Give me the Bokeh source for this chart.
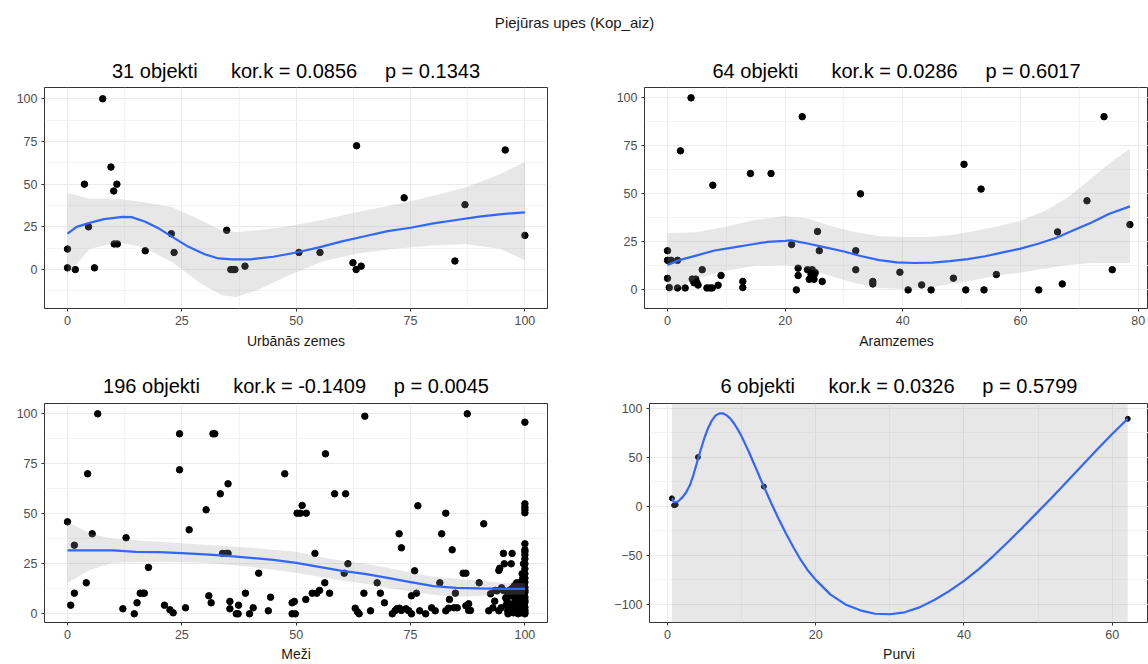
from bokeh.plotting import figure
from bokeh.layouts import column, row
from bokeh.models import FixedTicker, Range1d
from bokeh.embed import file_html
from bokeh.resources import INLINE

FONT = "Liberation Sans"

# ---------------- Urbānās zemes (31 objects) ----------------
urb_x = [0, 0, 1.7, 3.7, 4.6, 5.9, 7.7, 9.5, 10.1, 10.8, 10.2, 10.9, 17, 22.7, 23.3, 34.8,
         35.7, 36.2, 36.6, 38.8, 50.6, 55.2, 62.4, 63.1, 64.2, 63.2, 73.6, 84.7, 86.9, 95.7, 100]
urb_y = [12, 1, 0, 50, 25, 1, 100, 60, 46, 50, 15, 15, 11, 21, 10, 23,
         0, 0, 0, 2, 10, 10, 4, 0, 2, 72.5, 42, 5, 38, 70, 20]
urb_fit_x = [0, 2, 5, 8, 12, 14, 17, 20, 23, 26, 30, 33, 36, 40, 45, 50, 55, 60, 65, 70,
             75, 80, 85, 90, 95, 100]
urb_fit_y = [21, 25, 27.5, 29.5, 30.8, 30.7, 28, 24, 19, 14, 9, 6.5, 6, 6, 7.5, 10, 13, 16.5,
             19.5, 22.5, 24.5, 27, 29, 31, 32.5, 33.5]
urb_band_x = [0, 4.8, 11, 16.5, 22.8, 29, 33.75, 36.9, 41.6, 47.8, 55.6, 63.4, 71, 79, 87, 94.7, 100]
urb_band_hi = [45, 41.5, 41.5, 39.6, 36.6, 29, 23, 22, 23, 25, 29, 33.7, 37.6, 42.5, 48, 56, 63]
urb_band_lo = [-3, 12, 16, 13, 4.5, -8, -15, -16, -12, -4, 4.5, 9.4, 12, 14, 15, 12, 5.5]

# ---------------- Aramzemes (64 objects) ----------------
aram_x = [0, 0, 0.6, 0, 0.3, 1.7, 1.7, 3, 2.2, 4, 4.2, 4.8, 4.5, 5, 5.9, 6.7, 7.2, 7.6, 7.7,
          8.6, 9.1, 12.8, 12.8, 14.1, 17.6, 21.1, 21.9, 22.2, 22.2, 22.9, 23.8, 24.6, 24.1,
          24.9, 24.9, 25.1, 25.5, 25.8, 26.3, 32, 32, 32.8, 34.9, 34.9, 39.5, 40.9, 43.2,
          44.8, 48.6, 50.4, 50.7, 53.3, 53.8, 55.9, 63.1, 66.3, 67.1, 71.3, 74.2, 75.6, 78.6,
          0.3, 5.2, 24.4]
aram_y = [20.4, 15.4, 15.4, 6, 1.2, 15.4, 1, 1, 72.4, 100, 5.6, 5.6, 3.7, 3.7, 10.5, 1, 1, 1,
          54.5, 2.4, 7.5, 4.4, 1.2, 60.6, 60.6, 23.6, 0, 11.3, 7.5, 90.2, 10.5, 10.5, 5.5,
          7.5, 5.5, 9, 30.4, 20.4, 4.4, 20.4, 10.5, 50, 4.4, 3.1, 9.2, 0, 2.6,
          0, 6.1, 65.4, 0, 52.5, 0, 8, 0, 30.2, 3.1, 46.4, 90.2, 10.5, 34,
          15, 2.5, 8]
aram_fit_x = [0, 2, 5, 8, 11, 14, 17, 20, 21, 24, 27, 30, 33, 36, 39, 42, 45, 48, 51, 54, 57,
              60, 63, 66, 69, 72, 75, 78.6]
aram_fit_y = [13, 15.5, 18, 20.5, 22, 23.5, 25, 25.5, 25.8, 24, 22, 20, 17.5, 15.5, 14.3, 14,
              14.2, 15, 16, 17.5, 19.5, 21.5, 24, 27, 31, 35, 39.5, 43.5]
aram_band_x = [0, 5, 10, 15, 20, 24, 28, 32, 36, 40, 44, 48, 52, 56, 60, 64, 68, 72, 76, 78.6]
aram_band_hi = [29.5, 30, 33, 36.5, 38.5, 37, 33, 30, 28, 27.5, 27.5, 28.5, 30.5, 33, 36, 41,
                48, 58, 68, 73.5]
aram_band_lo = [-2, 6, 10, 12.5, 13, 11, 7, 3.5, 1, 0.5, 1, 3, 5, 7.5, 9, 11, 13, 14, 14, 14]

# ---------------- Meži (196 objects) ----------------
mezi_x = [0, 0.7, 1.5, 1.5, 4.1, 4.4, 5.4, 6.6, 12.1, 12.8, 14.6, 15.2, 15.9, 16.5, 16.8, 17.7,
          21.2, 22.4, 23.1, 24.5, 24.5, 25.8, 26.6, 30.3, 30.9, 31.4, 31.8, 32.2, 33.4, 35.1,
          33.9, 34.7, 35.1, 35.5, 35.5, 36.9, 37.3, 37.4, 38.9, 39.8, 40.6, 41.8, 43.9, 44.4,
          47.5,
          49.1, 49.6, 49.1, 49.8, 50.2, 51.3, 50.9, 52.2, 52.1, 53.5, 54.5, 55.1, 54.1, 56.25,
          56.4, 57.3, 58.4, 60.8, 60.5, 61.3,
          62.9, 63.4, 63.75, 64.8, 65, 66.25, 67.7, 68.4, 69.3,
          71, 71.6, 72, 72.6, 73, 74, 74.6, 75.2, 72.5, 73, 75.2, 75.9, 76.3, 76.6, 77, 78.3,
          79.6, 80.4,
          81.4, 81.8, 82.7, 82.7, 83.3, 83.5, 84.1, 84.8, 84.5, 85.2, 86.5, 87.1, 87.4, 87.1,
          87.7, 87.7, 88.1,
          91, 90, 92.1, 93.4, 93.5, 94.3, 94.5, 94.3, 94.8, 95.3, 95.5, 95.3, 95.9, 96.25,
          96.25, 96.6, 97, 97.2, 97, 97.4,
          100, 100, 100, 100, 100, 100, 100, 100, 100, 100, 100, 100, 100, 100, 100, 100, 100,
          100, 100, 100,
          98.2, 99, 98.6, 99.3, 98, 99, 99.6, 98.5, 99.5, 98.8, 99.3, 97.8, 98.5, 99.2, 99.7,
          98.2, 99.6, 99.4, 99.7, 99.5,
          93, 93.9, 94.9, 95.8, 96.1, 96.8, 97.5, 97.1, 97.9, 98.9, 99.1, 99.8, 99.8, 99.8,
          99.8, 99.8, 99.8, 99.8, 100, 100, 100, 100, 100, 98.4, 97.7, 92.5, 96.3]
mezi_y = [46, 4.3, 34.3, 10.3, 15.5, 70, 40, 100, 2.5, 38, 0, 5.5, 10.3, 10.3, 10.3, 23.2,
          4.3, 2, 0.5, 90, 72, 3, 42, 52, 9, 5.5, 90, 90, 60, 65,
          30.2, 30.2, 30.2, 6.2, 2.5, 0, 0, 4.3, 10.3, 0, 3, 20.3, 1.5, 8.3,
          70,
          5.5, 6.2, 0, 0, 50.3, 54.2, 50.3, 50.3, 7.2, 10.3, 10.3, 11.7, 30.2, 15.5,
          80, 10.3, 60, 60, 20.3, 25,
          2.8, 1, 0, 10.3, 98.8, 1.5, 15.5, 10.3, 5.5,
          0, 1.5, 2.5, 2.8, 1.7, 2.5, 1.5, 0, 40, 33, 9, 21.5, 10.3, 54, 1.5, 0,
          3, 1.5,
          15.5, 40, 50.3, 1.5, 2.8, 7.2, 32, 10.3, 3, 3, 20.3, 20.3, 100, 4,
          1.7, 5, 1.7,
          45, 15.5, 1.5, 6.3, 11.7, 21.7, 22.8, 1.5, 3, 30.2, 25, 11.7, 4.3, 1.5,
          10.3, 11.7, 25, 30.2, 9, 5,
          95.8, 55, 53.3, 50.5, 35, 32, 29.5, 27.5, 25, 22.5, 20, 17.8, 15.8, 13.3, 10.8, 8.3,
          5.8, 3.3, 0.8, 0,
          15.5, 15.5, 13.3, 13.3, 10.3, 10.3, 10.3, 8, 6, 4.5, 2.5, 1.5, 0, 0.5, 1.5,
          2.8, 12, 20, 25, 17.5,
          3, 11.5, 13, 8, 6.5, 3, 0.5, 12.5, 7, 2, 5, 7, 9.5, 12,
          14.5, 19, 2, 4.5, 31, 52, 11.8, 6.8, 1.8, 11.5, 14, 10, 0]
mezi_fit_x = [0, 10, 15, 20, 25, 30, 35, 40, 45, 50, 55, 60, 65, 70, 75, 80, 85, 90, 95, 100]
mezi_fit_y = [31.7, 31.7, 31, 30.8, 30.3, 29.7, 29, 28, 27, 25.5, 23.5, 21.5, 20, 18, 15.8,
              13.8, 13, 12.7, 12.5, 12.5]
mezi_band_x = [0, 5, 10, 20, 30, 40, 50, 55, 60, 65, 70, 75, 80, 85, 90, 95, 100]
mezi_band_hi = [46, 40, 37.5, 36, 34.5, 33, 31, 28.5, 26.5, 25, 23, 20.5, 18.5, 17.5, 16.5,
                15.5, 15.3]
mezi_band_lo = [15.5, 22, 25.5, 26, 25.5, 23.5, 20.5, 18.5, 16.5, 15, 13, 11, 9.5, 8.5, 9,
                9.5, 9.7]

# ---------------- Purvi (6 objects) ----------------
purvi_x = [0.6, 0.9, 1.1, 4.1, 13, 62.1]
purvi_y = [8, 1, 1.5, 50, 20, 89]
purvi_fit_x = [0.6, 0.8, 1, 1.3, 1.6, 2, 2.5, 3, 3.5, 4, 4.5, 5, 5.5, 6, 6.5, 7, 7.5, 8, 8.5,
               9, 9.5, 10, 10.5, 11, 11.5, 12, 12.5, 13, 14, 15, 16, 17, 18, 19, 20, 22, 24,
               26, 28, 30, 32, 34, 36, 38, 40, 42, 44, 46, 48, 50, 52, 54, 56, 58, 60, 62.1]
purvi_fit_y = [8, 5, 4, 4.5, 6, 9, 14, 21, 32, 45, 58, 70, 80, 87.5, 92.5, 94.5, 94.5, 92.5,
               89, 84, 78, 71, 63, 55, 46, 37.5, 28.5, 20, 3, -13, -28, -42, -55, -66, -75,
               -90, -100, -106, -109.5, -110, -108, -103, -95.5, -86.5, -76, -64, -50.5, -36,
               -21, -5.5, 10, 26, 42, 58, 73.5, 89]
purvi_band_x = [0.6, 62.1]
purvi_band_hi = [400, 400]
purvi_band_lo = [-400, -400]

# ---------------- titles ----------------
GAP1 = " " + "\u00a0" * 5
GAP2 = " " + "\u00a0" * 4
main_title = "Piejūras upes (Kop_aiz)"
titles = ["31 objekti" + GAP1 + "kor.k = 0.0856" + GAP2 + "p = 0.1343",
          "64 objekti" + GAP1 + "kor.k = 0.0286" + GAP2 + "p = 0.6017",
          "196 objekti" + GAP1 + "kor.k = -0.1409" + GAP2 + "p = 0.0045",
          "6 objekti" + GAP1 + "kor.k = 0.0326" + GAP2 + "p = 0.5799"]
xlabels = ["Urbānās zemes", "Aramzemes", "Meži", "Purvi"]

x_ticks_pct = [0, 25, 50, 75, 100]
x_minor_pct = [12.5, 37.5, 62.5, 87.5]
x_ticks_20 = [0, 20, 40, 60, 80]
x_minor_20 = [10, 30, 50, 70]
y_ticks_pct = [0, 25, 50, 75, 100]
y_minor_pct = [-12.5, 12.5, 37.5, 62.5, 87.5]
y_ticks_purvi = [-100, -50, 0, 50, 100]
y_minor_purvi = [-75, -25, 25, 75]

BLUE = "#3366FF"


def panel(title, xlabel, px, py, fx, fy, bx, blo, bhi, xr, yr, xt, xm, yt, ym,
          width, height, borders, title_standoff, label_standoff, psize=6.5):
    left, right, top, bottom = borders
    p = figure(width=width, height=height, x_range=Range1d(*xr), y_range=Range1d(*yr),
               toolbar_location=None, output_backend="svg",
               min_border_left=left, min_border_right=right,
               min_border_top=top, min_border_bottom=bottom)
    p.title.text = title
    p.title.text_font = FONT
    p.title.text_font_size = "20px"
    p.title.text_font_style = "normal"
    p.title.text_color = "#000000"
    p.title.align = "center"
    p.title.standoff = title_standoff
    p.background_fill_color = "white"
    p.border_fill_color = "white"
    p.outline_line_color = "#333333"
    p.outline_line_width = 1

    p.xaxis.ticker = FixedTicker(ticks=xt, minor_ticks=xm)
    p.yaxis.ticker = FixedTicker(ticks=yt, minor_ticks=ym)
    for ax in (p.xaxis[0], p.yaxis[0]):
        ax.axis_line_color = None
        ax.major_tick_line_color = "#333333"
        ax.major_tick_in = 0
        ax.major_tick_out = 3
        ax.minor_tick_line_color = None
        ax.major_label_text_font = FONT
        ax.major_label_text_font_size = "12.5px"
        ax.major_label_text_color = "#4D4D4D"
        ax.major_label_standoff = 3
    p.xaxis.axis_label = xlabel
    p.xaxis.axis_label_text_font = FONT
    p.xaxis.axis_label_text_font_size = "14px"
    p.xaxis.axis_label_text_font_style = "normal"
    p.xaxis.axis_label_text_color = "#1A1A1A"
    p.xaxis.axis_label_standoff = label_standoff

    for g in (p.xgrid[0], p.ygrid[0]):
        g.grid_line_color = "#EBEBEB"
        g.grid_line_width = 1
        g.minor_grid_line_color = "#F3F3F3"
        g.minor_grid_line_width = 1

    p.scatter(px, py, size=psize, color="black")
    p.varea(x=bx, y1=blo, y2=bhi, fill_color="#999999", fill_alpha=0.24)
    p.line(fx, fy, line_color=BLUE, line_width=2.2)
    return p


W_L, W_R = 596, 552
H_T, H_1, H_2 = 45, 315, 304

p1 = panel(titles[0], xlabels[0], urb_x, urb_y, urb_fit_x, urb_fit_y,
           urb_band_x, urb_band_lo, urb_band_hi, (-5.03, 104.94), (-22.8, 106.6),
           x_ticks_pct, x_minor_pct, y_ticks_pct, y_minor_pct,
           W_L, H_1, (44, 49, 42, 52), 11, 5)
p2 = panel(titles[1], xlabels[1], aram_x, aram_y, aram_fit_x, aram_fit_y,
           aram_band_x, aram_band_lo, aram_band_hi, (-3.91, 81.76), (-9.7, 105.4),
           x_ticks_20, x_minor_20, y_ticks_pct, y_minor_pct,
           W_R, H_1, (48, 0, 42, 52), 11, 5)
p3 = panel(titles[2], xlabels[2], mezi_x, mezi_y, mezi_fit_x, mezi_fit_y,
           mezi_band_x, mezi_band_lo, mezi_band_hi, (-5.03, 104.94), (-4.35, 105.15),
           x_ticks_pct, x_minor_pct, y_ticks_pct, y_minor_pct,
           W_L, H_2, (44, 49, 43, 42), 13, 4)
p4 = panel(titles[3], xlabels[3], purvi_x, purvi_y, purvi_fit_x, purvi_fit_y,
           purvi_band_x, purvi_band_lo, purvi_band_hi, (-2.43, 64.9), (-118.4, 104.6),
           x_ticks_20, x_minor_20, y_ticks_purvi, y_minor_purvi,
           W_R, H_2, (53, 0, 43, 42), 13, 4, psize=5)

top = figure(width=1148, height=H_T, x_range=Range1d(0, 1), y_range=Range1d(0, 1),
             toolbar_location=None, output_backend="svg",
             min_border_top=30, min_border_bottom=0, min_border_left=0, min_border_right=0)
top.title.text = main_title
top.title.text_font = FONT
top.title.text_font_size = "15px"
top.title.text_font_style = "normal"
top.title.text_color = "#1A1A1A"
top.title.align = "center"
top.title.standoff = 0
top.axis.visible = False
top.grid.visible = False
top.outline_line_color = None

layout = column(top, row(p1, p2), row(p3, p4))
open("out.html", "w").write(file_html(layout, INLINE))
